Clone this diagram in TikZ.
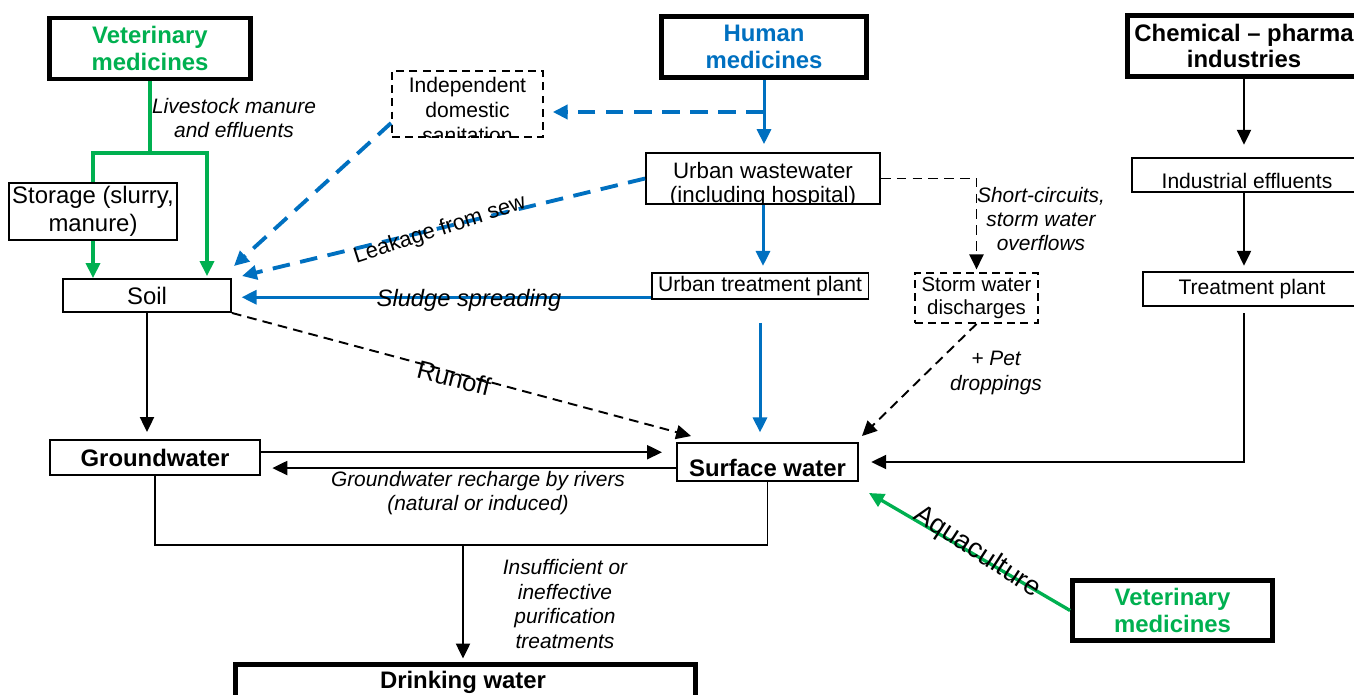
\documentclass[tikz,border=0pt]{standalone}
\usepackage{fontspec}
\setmainfont{Liberation Sans}
\usepackage{tikz}
\usetikzlibrary{arrows.meta,positioning,calc}
\definecolor{vetgreen}{RGB}{0,176,80}
\definecolor{humblue}{RGB}{0,112,192}

\begin{document}
\begin{tikzpicture}[x=0.02cm,y=-0.02cm,>={Triangle[length=8.5pt,width=8pt]},
  box/.style={draw,line width=1.1pt,inner sep=0pt,font=\fontsize{12}{14}\selectfont,align=center},
  bigbox/.style={draw,line width=2.8pt,inner sep=0pt,font=\fontsize{13.6}{15.3}\selectfont\bfseries,align=center},
  dbox/.style={box,dash pattern=on 4.5pt off 3pt},
  lbl/.style={font=\fontsize{11.9}{13.9}\selectfont\itshape,align=center},
  kline/.style={line width=1.1pt},
  kdash/.style={line width=1.1pt,dash pattern=on 5.5pt off 3.5pt},
  bline/.style={humblue,line width=1.7pt},
  bdash/.style={humblue,line width=2.2pt,dash pattern=on 10pt off 6pt},
  gline/.style={vetgreen,line width=1.9pt}]
\useasboundingbox (0,0) rectangle (1354,695);
\clip (0,0) rectangle (1354,695);

\node[bigbox,text=vetgreen,minimum width=4.02cm,minimum height=1.22cm] (vet1) at (150,48.5) {Veterinary\\medicines};
\node[bigbox,text=humblue,minimum width=4.1cm,minimum height=1.22cm] (hum) at (764,47) {Human\\medicines};
\node[bigbox,minimum width=4.66cm,minimum height=1.22cm] (chem) at (1244,46) {Chemical -- pharma\\industries};

\node[dbox,minimum width=3.02cm,minimum height=1.32cm] (indep) at (467.5,104) {};
\begin{scope}
\clip (indep.south west) rectangle (indep.north east);
\node[align=center,font=\fontsize{12}{14.2}\selectfont] (indeptxt) at (467.5,110) {Independent\\domestic\\sanitation};
\end{scope}

\node[box,minimum width=3.36cm,minimum height=1.14cm,font=\fontsize{13.6}{15.6}\selectfont] (storage) at (93,211.5) {Storage (slurry,\\manure)};
\node[box,minimum width=3.36cm,minimum height=0.66cm,font=\fontsize{13.6}{15.6}\selectfont] (soil) at (147,295.5) {Soil};

\node[box,minimum width=4.68cm,minimum height=1.02cm] (uww) at (763,178.5) {};
\begin{scope}
\clip (uww.south west) rectangle (uww.north east);
\node[align=center,font=\fontsize{12.7}{13.6}\selectfont] (uwwtxt) at (763,185) {Urban wastewater\\(including hospital)};
\end{scope}
\node[box,minimum width=4.34cm,minimum height=0.52cm] (utp) at (760,286) {Urban treatment plant};
\node[dbox,minimum width=2.46cm,minimum height=1cm,font=\fontsize{11.6}{13.6}\selectfont] (storm) at (976.5,298) {Storm water\\discharges};

\node[box,minimum width=4.6cm,minimum height=0.68cm,text height=0.56cm,text depth=0pt] (ie) at (1247,175) {Industrial effluents};
\node[box,minimum width=4.36cm,minimum height=0.68cm] (tp) at (1252,289) {Treatment plant};

\node[box,minimum width=4.2cm,minimum height=0.7cm,font=\fontsize{13.6}{15.6}\selectfont\bfseries] (gw) at (155,457.5) {Groundwater};
\node[box,minimum width=3.62cm,minimum height=0.76cm,text height=0.6cm,text depth=0pt,font=\fontsize{13.6}{15.6}\selectfont\bfseries] (sw) at (767.5,462) {Surface water};
\node[bigbox,text=vetgreen,minimum width=4cm,minimum height=1.2cm] (vet2) at (1172.5,610.5) {Veterinary\\medicines};
\node[bigbox,minimum width=9.2cm,minimum height=1.1cm] (drink) at (465.5,692) {};
\node[font=\fontsize{13.6}{15.6}\selectfont\bfseries] (drinktxt) at (463,682) {Drinking water};

% veterinary branch
\coordinate (vsplit) at (150,153);
\draw[gline] (vet1.south) -- (vsplit);
\draw[gline] (vsplit) -| (storage.north);
\draw[gline,->] (vsplit) -| ($(soil.north)+(60,-2)$);
\draw[gline,->] (storage.south) -- (storage.south |- soil.north);
\node[lbl] (manure) at (234,118) {Livestock manure\\and effluents};

% human branch
\coordinate (hsplit) at (764,112);
\draw[bline,->,shorten >=4.5pt] (hum.south) -- (hum.south |- uww.north);
\draw[bdash,->,shorten >=5pt] (hsplit) -- (hsplit -| indep.east);
\draw[bdash,->] (indep.194) -- ($(soil.north east)+(2,-12)$);
\draw[bdash,->] (uww.west) -- ($(soil.north east)+(10,-2)$);
\node[font=\fontsize{12.5}{14}\selectfont,rotate=18] (leak) at (440,230) {Leakage from sew};
\draw[bline,->,shorten >=3.5pt] (uww.south) -- (uww.south |- utp.north);
\draw[bline,->,shorten >=5.5pt] ([yshift=-1pt]utp.west |- soil.east) -- ([yshift=-1pt]soil.east);
\node[font=\fontsize{13.5}{15}\selectfont\itshape] (sludge) at (469,300) {Sludge spreading};
\draw[bline,->,shorten <=13pt,shorten >=5.5pt] (utp.south) -- (utp.south |- sw.north);

\draw[kdash,->,shorten >=1.5pt] (uww.east) -| (storm.north);
\node[lbl] (short) at (1041,219) {Short-circuits,\\storm water\\overflows};
\draw[kdash,->] (storm.south) -- ($(sw.north east)+(3,-6)$);
\node[lbl] (pet) at (996,373) {+ Pet\\droppings};

% industry branch
\draw[kline,->,shorten >=7pt] (chem.south) -- (chem.south |- ie.north);
\draw[kline,->,shorten >=3pt] (chem.south |- ie.south) -- (chem.south |- tp.north);
\draw[kline,->,shorten <=3.5pt,shorten >=7pt] (chem.south |- tp.south) |- (sw.east);

% soil, groundwater, surface water
\draw[kline,->,shorten >=4pt] (soil.south) -- (soil.south |- gw.north);
\draw[kdash,->] (soil.south east) -- ($(sw.north west)+(15,-6)$);
\node[font=\fontsize{14.5}{16}\selectfont,rotate=-14] (runoff) at (454,378) {Runoff};
\draw[kline,->,shorten >=8pt] ([yshift=3pt]gw.east) -- ([yshift=3pt]gw.east -| sw.west);
\draw[kline,->,shorten >=6.5pt] ([yshift=-6pt]gw.east -| sw.west) -- ([yshift=-6pt]gw.east);
\node[lbl] (recharge) at (478,493) {Groundwater recharge by rivers\\(natural or induced)};
\draw[gline,->] (vet2.west) -- ($(sw.south east)+(10,11)$);
\node[font=\fontsize{15.5}{17}\selectfont,rotate=-33] (aqua) at (977,552) {Aquaculture};

\coordinate (merge) at (463,545);
\draw[kline] (gw.south) |- (merge) -| (sw.south);
\draw[kline,->,shorten >=2pt] (merge) -- (merge |- drink.north);
\node[lbl] (purif) at (565,604) {Insufficient or\\ineffective\\purification\\treatments};
\end{tikzpicture}
\end{document}
